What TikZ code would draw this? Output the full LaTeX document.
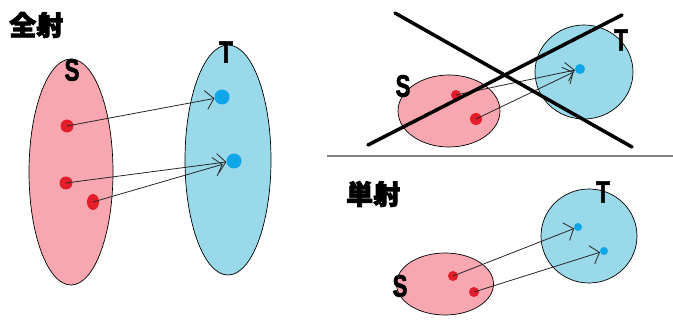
\documentclass[tikz,border=0pt]{standalone}
\usepackage{fontspec}
\setmainfont{Liberation Sans}
\newfontfamily\cjk[FakeBold=3]{Noto Sans CJK JP}
\newfontfamily\letterfont[FakeBold=2]{Liberation Sans}
\definecolor{SetPink}{HTML}{F8A7B0}
\definecolor{SetBlue}{HTML}{99D9EA}
\definecolor{DotRed}{HTML}{E31D2A}
\definecolor{DotBlue}{HTML}{0EA5E9}
\usetikzlibrary{arrows.meta,shapes.geometric}
\newcommand{\setlabel}[1]{\scalebox{0.72}[1]{#1}}

\begin{document}
\begin{tikzpicture}[x=1pt,y=-1pt,
    setS/.style={ellipse, draw=black, line width=0.7pt, fill=SetPink, inner sep=0pt},
    setT/.style={ellipse, draw=black, line width=0.7pt, fill=SetBlue, inner sep=0pt},
    elem/.style={circle, fill=DotRed, inner sep=0pt, minimum size=13pt},
    img/.style={circle, fill=DotBlue, inner sep=0pt, minimum size=15pt},
    setname/.style={font=\letterfont\bfseries\fontsize{31}{31}\selectfont, inner sep=0pt},
    title/.style={font=\cjk\bfseries\fontsize{27}{27}\selectfont, inner sep=0pt, anchor=west},
    map/.style={-{Straight Barb[length=8pt, width=19pt]}, line width=0.8pt, black!85},
    cross/.style={line width=3.5pt, black, line cap=round},
]
    \useasboundingbox (0,0) rectangle (673,326);

    % surjective
    \node[title] (surj) at (9,25) {全射};
    \node[setS, minimum width=84pt, minimum height=226pt] (S1) at (71,172) {};
    \node[setT, minimum width=86pt, minimum height=230pt] (T1) at (228,160) {};
    \node[setname] (S1name) at (72,70) {\setlabel{S}};
    \node[setname] (T1name) at (226,52) {\setlabel{T}};
    \node[elem] (s11) at (67,126) {};
    \node[elem] (s12) at (66,183) {};
    \node[elem, minimum width=12pt, minimum height=16pt, ellipse] (s13) at (93,202) {};
    \node[img] (t11) at (222,97) {};
    \node[img] (t12) at (234,161) {};
    \draw[map] (s11.center) -- (t11);
    \draw[map] (s12.center) -- (t12);
    \draw[map, shorten >=4pt] (s13.center) -- (t12);

    % not a map
    \node[setS, minimum width=102pt, minimum height=72pt] (S2) at (449,111) {};
    \node[setT, minimum width=98pt, minimum height=94pt] (T2) at (584,72) {};
    \node[setname] (S2name) at (403,86) {\setlabel{S}};
    \node[setname] (T2name) at (621,40) {\setlabel{T}};
    \node[elem, minimum size=10pt] (s21) at (456,95) {};
    \node[elem, minimum size=12pt] (s22) at (476,119) {};
    \node[img, minimum size=10pt] (t21) at (580,69) {};
    \draw[map] (s21.center) -- (t21);
    \draw[map, shorten >=2pt] (s22.center) -- (t21);
    \coordinate (x1a) at (395,13);
    \coordinate (x1b) at (632,147);
    \coordinate (x2a) at (368,145);
    \coordinate (x2b) at (622,15);
    \draw[cross] (x1a) -- (x1b);
    \draw[cross] (x2a) -- (x2b);

    \coordinate (sepL) at (327,156);
    \coordinate (sepR) at (673,156);
    \draw[gray, line width=1.5pt] (sepL) -- (sepR);

    % injective
    \node[title] (inj) at (346,194) {単射};
    \node[setS, minimum width=97pt, minimum height=62pt] (S3) at (445,284) {};
    \node[setT, minimum width=96pt, minimum height=94pt] (T3) at (589,236) {};
    \node[setname] (S3name) at (400,286) {\setlabel{S}};
    \node[setname] (T3name) at (603,192) {\setlabel{T}};
    \node[elem, minimum size=10pt] (s31) at (453,276) {};
    \node[elem, minimum size=10pt] (s32) at (474,292) {};
    \node[img, minimum size=8pt] (t31) at (578,227) {};
    \node[img, minimum size=8pt] (t32) at (604,251) {};
    \draw[map] (s31.center) -- (t31);
    \draw[map] (s32.center) -- (t32);
\end{tikzpicture}
\end{document}
